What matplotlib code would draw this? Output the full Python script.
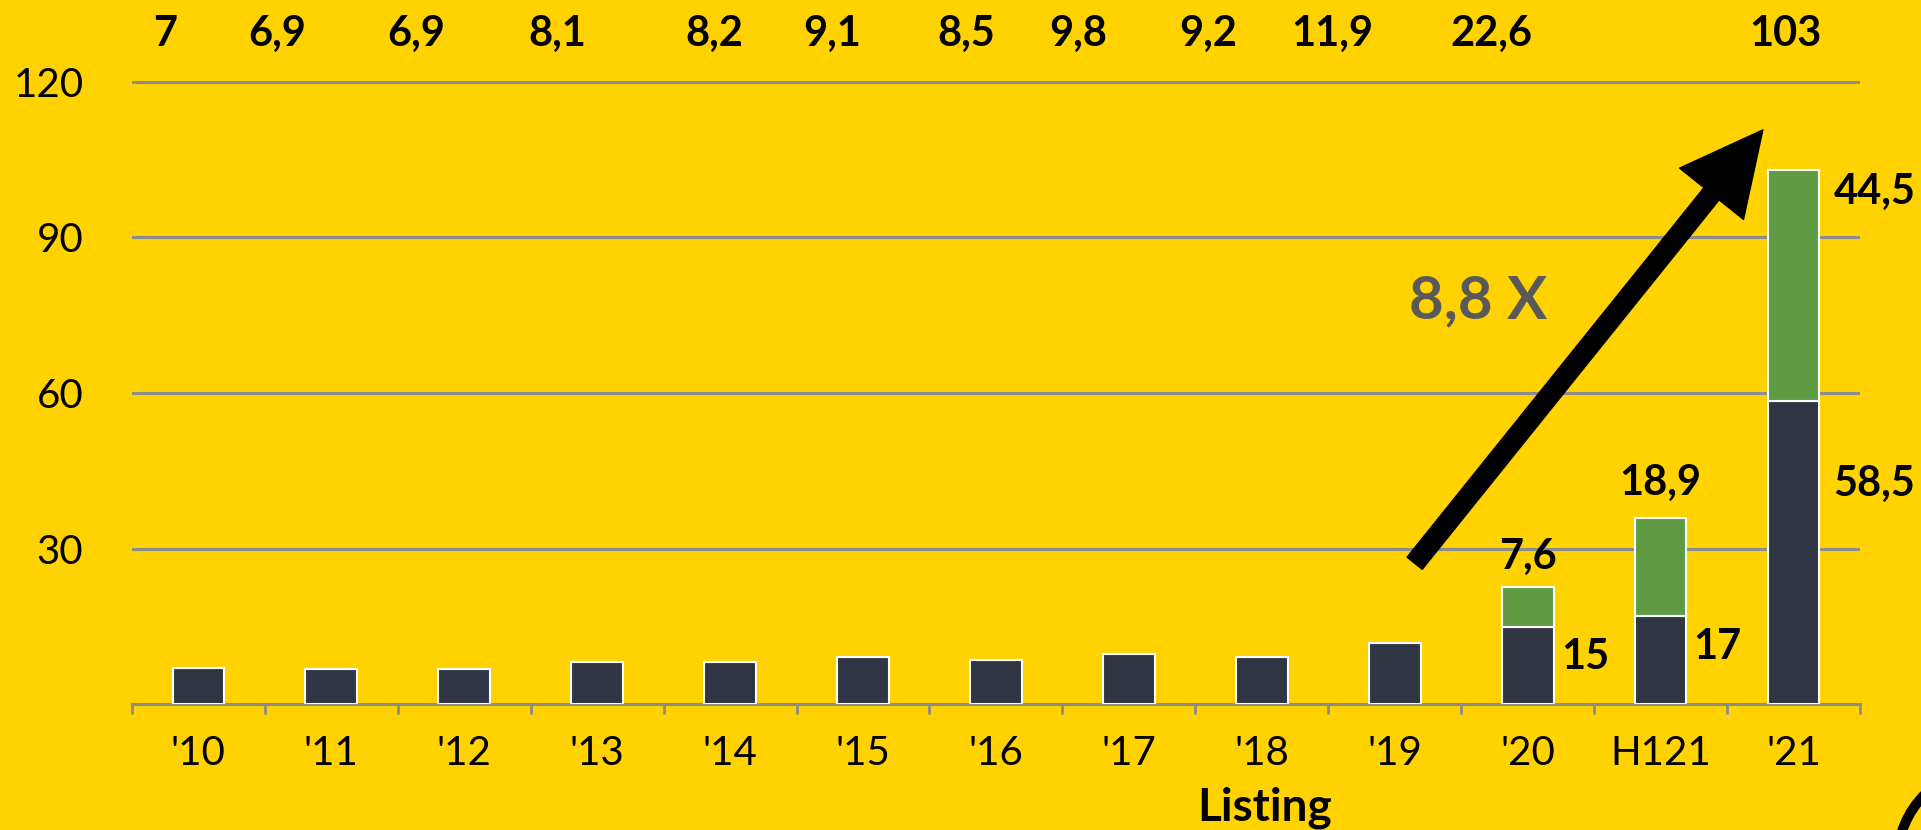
import numpy as np
import matplotlib.pyplot as plt
from matplotlib.patches import FancyArrowPatch, Ellipse

# data
categories = ["'10", "'11", "'12", "'13", "'14", "'15", "'16", "'17", "'18", "'19", "'20", "H121", "'21"]
base_values = [7, 6.9, 6.9, 8.1, 8.2, 9.1, 8.5, 9.8, 9.2, 11.9, 15, 17, 58.5]
extra_values = [0, 0, 0, 0, 0, 0, 0, 0, 0, 0, 7.6, 18.9, 44.5]
show_total = [True] * 11 + [False, True]
y_ticks = [30, 60, 90, 120]

# label placement (layout only)
top_shift = [-0.25, -0.41, -0.36, -0.30, -0.12, -0.23, -0.22, -0.38, -0.40, -0.47, -0.27, 0, -0.06]

BG = '#FFD200'
DARK = '#2F3542'
GREEN = '#5E9B43'
GRID = '#8C8C8C'
FONT = ['Lato', 'DejaVu Sans']
LABEL_SIZE = 30


def fmt(v):
    return f"{v:g}".replace('.', ',')


plt.rcParams['font.family'] = FONT

fig = plt.figure(figsize=(19.21, 8.30), dpi=100, facecolor=BG)
ax = fig.add_axes([0.0687, 0.1513, 0.8995, 0.7566], facecolor=BG)

x = np.arange(len(categories))
base = np.array(base_values)
extra = np.array(extra_values)
total = base + extra

ax.bar(x, base, width=0.39, color=DARK, edgecolor='white', linewidth=1.5, zorder=3)
ax.bar(x, extra, bottom=base, width=0.39, color=GREEN, edgecolor='white', linewidth=1.5, zorder=3)

ax.set_xlim(-0.5, len(categories) - 0.5)
ax.set_ylim(0, 121)

# grid and axes
ax.set_yticks(y_ticks)
ax.set_yticklabels([str(t) for t in y_ticks])
ax.yaxis.grid(True, color=GRID, linewidth=2.2, zorder=0)
ax.set_axisbelow(True)
for s in ['top', 'right', 'left']:
    ax.spines[s].set_visible(False)
ax.spines['bottom'].set_color(GRID)
ax.spines['bottom'].set_linewidth(2.2)
ax.tick_params(axis='y', length=0, pad=35, labelsize=29)

ax.set_xticks(x)
ax.set_xticklabels(categories)
ax.set_xticks(np.arange(-0.5, len(categories)), minor=True)
ax.tick_params(axis='x', which='major', length=0, pad=22, labelsize=29)
ax.tick_params(axis='x', which='minor', length=7, width=2, color=GRID)

# totals row above the plot
for i, v in enumerate(total):
    if show_total[i]:
        ax.text(i + top_shift[i], 129.2, fmt(v), ha='center', va='center',
                fontsize=LABEL_SIZE, fontweight='bold', clip_on=False)

# segment labels for the stacked bars
ax.text(10.25, 9.2, fmt(base[10]), ha='left', va='center', fontsize=LABEL_SIZE, fontweight='bold')
ax.text(11.25, 11.1, fmt(base[11]), ha='left', va='center', fontsize=LABEL_SIZE, fontweight='bold')
ax.text(12.3, 42.5, fmt(base[12]), ha='left', va='center', fontsize=LABEL_SIZE, fontweight='bold')
ax.text(10, 28.4, fmt(extra[10]), ha='center', va='center', fontsize=LABEL_SIZE, fontweight='bold')
ax.text(11, 42.6, fmt(extra[11]), ha='center', va='center', fontsize=LABEL_SIZE, fontweight='bold')
ax.text(12.3, 98.7, fmt(extra[12]), ha='left', va='center', fontsize=LABEL_SIZE, fontweight='bold',
        clip_on=False)

# growth arrow and multiplier
arrow = FancyArrowPatch((9.15, 27.2), (11.77, 110.7),
                        arrowstyle='simple,head_length=59,head_width=59,tail_width=14',
                        mutation_scale=1, color='black', shrinkA=0, shrinkB=0, zorder=5)
ax.add_patch(arrow)
ax.text(9.63, 77.7, '8,8 X', ha='center', va='center', fontsize=43,
        fontweight='bold', color='#595959')

fig.text(1265 / 1921, 1 - 820 / 830, 'Listing', ha='center', va='baseline',
         fontsize=33, fontweight='bold')

# partial logo ring in the corner
ring = Ellipse((1990 / 1921, 1 - 860 / 830), 2 * 92.5 / 1921, 2 * 92.5 / 830,
               transform=fig.transFigure, fill=False, edgecolor='black', linewidth=7.2)
fig.patches.append(ring)

fig.savefig('out.png', dpi=100, facecolor=BG)
